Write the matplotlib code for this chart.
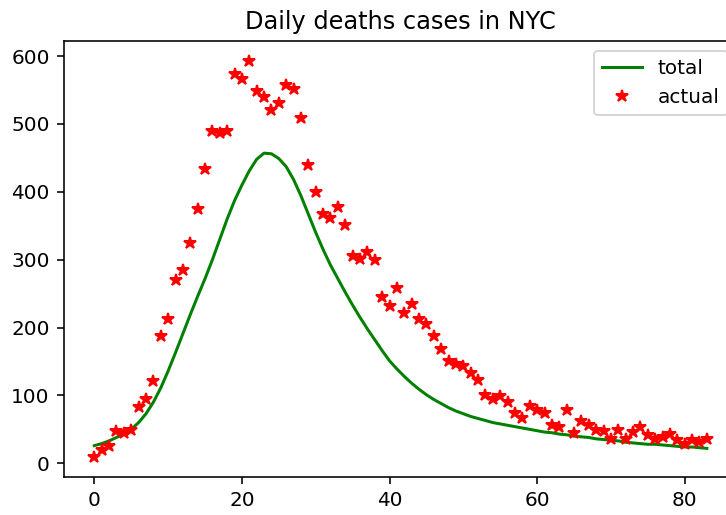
import matplotlib
matplotlib.use("Agg")
import matplotlib.pyplot as plt
import numpy as np

days = list(range(84))

actual = [9, 19, 26, 47, 45, 49, 83, 95, 121, 188,
          212, 270, 285, 325, 374, 433, 490, 487, 490, 573,
          566, 593, 549, 539, 521, 531, 558, 551, 509, 439,
          400, 368, 362, 378, 351, 306, 301, 311, 300, 245,
          232, 259, 221, 234, 213, 205, 188, 169, 151, 146,
          143, 133, 123, 100, 95, 99, 90, 74, 66, 85,
          79, 74, 57, 53, 78, 44, 63, 57, 49, 48,
          36, 49, 36, 46, 54, 41, 36, 39, 43, 34,
          29, 34, 31, 36]

total = [26, 29, 33, 38, 44, 50, 60, 73, 90, 111,
         136, 163, 191, 219, 246, 272, 300, 330, 360, 387,
         410, 431, 448, 457, 456, 449, 437, 418, 394, 367,
         340, 315, 292, 272, 252, 233, 215, 198, 182, 166,
         151, 139, 128, 118, 109, 101, 94, 88, 82, 77,
         73, 69, 66, 63, 60, 58, 56, 54, 52, 50,
         48, 46, 45, 43, 42, 40, 39, 38, 36, 35,
         34, 33, 31, 30, 29, 28, 28, 27, 26, 25,
         24, 24, 23, 22]

title = "Daily deaths cases in NYC"

fig = plt.figure(figsize=(726 / 144, 515 / 144), dpi=144)
ax = fig.add_axes([63.7 / 726, 38 / 515, (737.5 - 63.7) / 726, 436 / 515])
ax.plot(days, total, 'g', label='total')
ax.plot(days, actual, 'r*', label='actual')
ax.set_title(title)
ax.legend(loc='upper right')
fig.savefig("out.png", dpi=144)
